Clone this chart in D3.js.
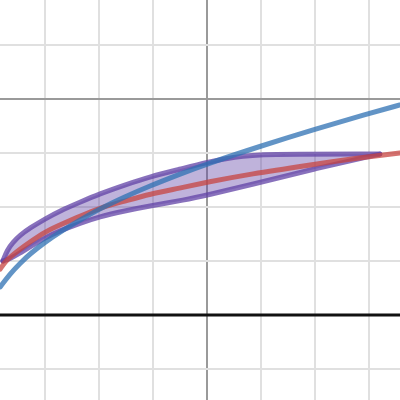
<!DOCTYPE html>
<html>
<head>
<meta charset="utf-8">
<script src="https://cdn.jsdelivr.net/npm/d3@7"></script>
<style>
  html, body { margin: 0; padding: 0; background: #fff; }
  svg { display: block; }
</style>
</head>
<body>
<div id="chart"></div>
<script>
// set the dimensions of the graph
var width = 400,
    height = 400;

// grid lines (graph units)
var gridX = [-3, -2, -1, 0, 1, 2, 3];
var gridY = [-1, 0, 1, 2, 3, 4, 5];

// curves: [x, y]
var blueData = [[-3.83, 0.52], [-3.65, 0.76], [-3.46, 0.96], [-3.28, 1.13], [-3.0, 1.35],
  [-2.72, 1.54], [-2.35, 1.76], [-2.0, 1.96], [-1.52, 2.19], [-1.06, 2.39], [-0.5, 2.61],
  [0, 2.8], [1, 3.13], [1.96, 3.43], [2.96, 3.72], [3.57, 3.89]];

var redData = [[-3.83, 0.85], [-3.74, 0.98], [-3.65, 1.07], [-3.46, 1.22], [-3.28, 1.35],
  [-3.0, 1.54], [-2.72, 1.67], [-2.35, 1.83], [-2.0, 1.98], [-1.52, 2.11], [-1.06, 2.24],
  [-0.5, 2.35], [0, 2.46], [0.8, 2.61], [1.91, 2.78], [2.65, 2.89], [3.57, 3.0]];

var upperData = [[-3.78, 1.0], [-3.7, 1.2], [-3.6, 1.34], [-3.46, 1.48], [-3.28, 1.61], [-3.0, 1.78],
  [-2.72, 1.93], [-2.35, 2.09], [-2.0, 2.24], [-1.52, 2.41], [-1.06, 2.56], [-0.5, 2.7],
  [0, 2.83], [0.52, 2.93], [1, 2.98], [3.2, 2.98]];

var lowerData = [[-3.78, 1.0], [-3.65, 1.04], [-3.46, 1.15], [-3.28, 1.26], [-3.0, 1.43],
  [-2.72, 1.56], [-2.35, 1.7], [-2.0, 1.82], [-1.52, 1.93], [-1.06, 2.02], [-0.41, 2.13],
  [0, 2.22], [0.8, 2.41], [1.96, 2.7], [3.2, 2.98]];

// set the ranges
var x = d3.scaleLinear().domain([-207 / 54, 193 / 54]).range([0, width]);
var y = d3.scaleLinear().domain([-85 / 54, 315 / 54]).range([height, 0]);

var line = d3.line()
    .x(function(d) { return x(d[0]); })
    .y(function(d) { return y(d[1]); })
    .curve(d3.curveBasis);

var svg = d3.select("#chart").append("svg")
    .attr("width", width)
    .attr("height", height);

// light grid
svg.selectAll(".gx").data(gridX).enter().append("line")
    .attr("x1", function(d) { return x(d); })
    .attr("x2", function(d) { return x(d); })
    .attr("y1", 0).attr("y2", height)
    .attr("stroke", function(d) { return d === 0 ? "#9a9a9a" : "#e0e0e0"; })
    .attr("stroke-width", 2);

svg.selectAll(".gy").data(gridY).enter().append("line")
    .attr("y1", function(d) { return y(d); })
    .attr("y2", function(d) { return y(d); })
    .attr("x1", 0).attr("x2", width)
    .attr("stroke", function(d) { return d === 4 ? "#9a9a9a" : (d === 0 ? "none" : "#e0e0e0"); })
    .attr("stroke-width", 2);

// thick black line
svg.append("line")
    .attr("x1", 0).attr("x2", width)
    .attr("y1", y(0)).attr("y2", y(0))
    .attr("stroke", "#111")
    .attr("stroke-width", 3);

// shaded region between upper and lower
var fillD = line(upperData) +
    line(lowerData.slice().reverse()).replace(/^M/, "L") + "Z";

svg.append("path")
    .attr("d", fillD)
    .attr("fill", "#6042a6")
    .attr("fill-opacity", 0.4)
    .attr("stroke", "none");

[upperData, lowerData].forEach(function(d) {
  svg.append("path")
      .attr("d", line(d))
      .attr("fill", "none")
      .attr("stroke", "#6042a6")
      .attr("stroke-opacity", 0.75)
      .attr("stroke-width", 5)
      .attr("stroke-linecap", "round")
      .attr("stroke-linejoin", "round");
});

// red curve
svg.append("path")
    .attr("d", line(redData))
    .attr("fill", "none")
    .attr("stroke", "#c74440")
    .attr("stroke-opacity", 0.75)
    .attr("stroke-width", 5)
    .attr("stroke-linecap", "round");

// blue curve
svg.append("path")
    .attr("d", line(blueData))
    .attr("fill", "none")
    .attr("stroke", "#2d70b3")
    .attr("stroke-opacity", 0.75)
    .attr("stroke-width", 5)
    .attr("stroke-linecap", "round");
</script>
</body>
</html>
